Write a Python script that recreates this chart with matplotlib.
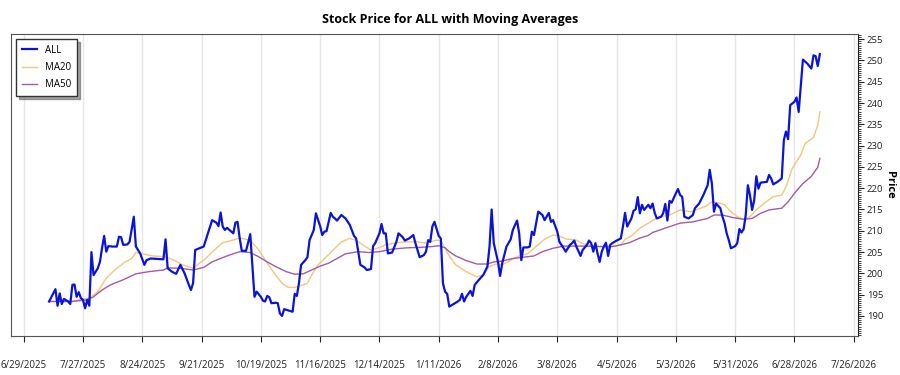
import matplotlib
matplotlib.use("Agg")
import matplotlib.pyplot as plt
import matplotlib.ticker as ticker
import pandas as pd

plt.rcParams['font.family'] = ['Open Sans', 'DejaVu Sans']

# day offsets from 2025-06-29 and values
base_date = pd.Timestamp("2025-06-29")

price_day = [12, 15, 16, 17, 18, 19, 21, 22, 23, 24, 25, 26, 27, 28, 29, 30, 31, 32, 33, 35,
             36, 37, 38, 39, 40, 42, 44, 45, 46, 47, 49, 50, 52, 53, 55, 57, 58, 60, 63, 66,
             67, 68, 70, 72, 74, 76, 78, 79, 80, 81, 83, 85, 86, 87, 89, 91, 92, 93, 94, 95,
             96, 99, 100, 101, 102, 103, 105, 107, 109, 110, 112, 113, 114, 115, 116, 117, 119, 120, 121, 122,
             123, 125, 127, 128, 129, 130, 131, 133, 134, 135, 137, 138, 140, 141, 142, 143, 145, 146, 147, 148,
             150, 152, 154, 156, 157, 159, 161, 162, 164, 165, 166, 168, 169, 170, 171, 172, 174, 176, 177, 179,
             180, 182, 184, 185, 187, 189, 190, 191, 192, 193, 194, 196, 197, 198, 199, 200, 201, 203, 205, 206,
             207, 208, 209, 211, 212, 213, 215, 217, 219, 220, 221, 222, 224, 225, 226, 228, 230, 231, 233, 234,
             235, 236, 238, 239, 240, 241, 243, 245, 246, 248, 249, 250, 252, 253, 255, 256, 258, 259, 260, 261,
             263, 264, 266, 267, 268, 269, 270, 271, 272, 273, 274, 275, 276, 277, 278, 280, 282, 283, 284, 285,
             287, 288, 289, 290, 291, 292, 293, 295, 296, 297, 298, 299, 301, 302, 303, 304, 305, 306, 308, 309,
             310, 311, 312, 314, 316, 317, 319, 321, 323, 324, 325, 326, 327, 329, 330, 331, 332, 333, 334, 336,
             337, 338, 339, 340, 341, 342, 343, 344, 345, 346, 347, 348, 351, 352, 353, 354, 356, 358, 359, 360,
             361, 362, 364, 365, 366, 368, 370, 372, 373, 374, 375, 376]
price = [193.4, 196.3, 192.4, 195.3, 192.8, 194.0, 193.4, 192.8, 197.3, 197.4, 194.5, 195.6, 194.2, 193.8, 191.8, 193.8, 192.4, 205.0, 199.6, 201.2,
         202.7, 205.9, 208.8, 205.1, 206.4, 206.3, 206.3, 208.6, 208.5, 206.7, 206.8, 207.4, 213.3, 206.3, 204.7, 202.0, 203.1, 203.5, 203.4, 203.3,
         208.0, 201.2, 200.4, 199.9, 202.0, 200.0, 197.3, 196.1, 197.7, 205.5, 205.9, 206.3, 207.8, 209.4, 212.5, 211.9, 211.1, 214.3, 211.0, 210.2,
         210.7, 209.4, 211.9, 212.1, 208.3, 205.3, 205.3, 209.2, 194.5, 195.7, 194.5, 193.6, 193.4, 194.7, 194.4, 193.0, 193.1, 193.0, 190.6, 190.0,
         191.6, 191.3, 191.0, 195.2, 194.7, 197.7, 202.0, 203.1, 203.8, 207.8, 210.2, 214.1, 211.1, 209.0, 209.8, 209.9, 214.2, 213.3, 212.9, 212.4,
         213.7, 212.9, 211.4, 208.8, 208.2, 202.0, 201.4, 200.8, 201.0, 206.4, 207.1, 209.4, 211.6, 209.4, 209.4, 204.7, 204.9, 207.4, 209.4, 208.5,
         207.7, 208.2, 209.0, 207.1, 203.8, 204.3, 205.1, 207.8, 207.4, 211.0, 212.1, 208.8, 208.2, 197.7, 195.7, 195.2, 192.2, 192.8, 193.4, 193.8,
         195.2, 193.4, 194.5, 195.9, 194.7, 197.3, 198.5, 199.6, 201.6, 206.3, 215.0, 207.1, 202.7, 199.4, 202.4, 206.3, 208.0, 210.2, 212.4, 209.4,
         203.1, 206.1, 206.1, 206.3, 209.8, 209.0, 214.5, 213.7, 212.5, 214.2, 212.1, 212.5, 209.8, 207.4, 205.9, 205.1, 206.7, 207.1, 207.7, 206.3,
         204.1, 205.5, 206.7, 207.7, 207.1, 205.1, 207.1, 204.7, 202.7, 205.1, 206.3, 207.2, 204.1, 206.7, 207.1, 207.7, 208.2, 211.0, 214.2, 211.0,
         212.9, 214.7, 215.0, 217.9, 214.1, 216.1, 214.9, 216.1, 215.3, 216.4, 214.2, 212.9, 213.3, 214.1, 216.3, 212.4, 217.0, 216.6, 218.8, 219.8,
         218.4, 218.0, 213.3, 212.9, 213.7, 215.3, 216.4, 218.4, 220.7, 224.3, 221.1, 214.5, 216.4, 215.3, 213.3, 211.8, 209.4, 207.8, 205.9, 206.4,
         207.1, 210.4, 209.6, 210.4, 213.7, 220.7, 218.4, 214.9, 217.2, 222.8, 219.9, 221.3, 221.5, 223.1, 222.3, 220.9, 221.5, 222.3, 231.3, 233.3,
         231.5, 239.5, 240.3, 241.3, 237.9, 250.2, 249.3, 248.1, 251.2, 251.0, 248.7, 251.5]

ma20_day = [12, 23, 31, 35, 39, 43, 48, 51, 53, 56, 61, 67, 71, 75, 80, 82, 86, 90, 94, 98,
            102, 107, 111, 115, 119, 122, 125, 128, 130, 134, 136, 139, 143, 147, 150, 154, 157, 160, 164, 167,
            171, 176, 181, 186, 190, 195, 197, 199, 201, 204, 209, 214, 217, 220, 223, 226, 230, 234, 238, 242,
            246, 250, 253, 256, 261, 264, 269, 274, 278, 282, 284, 287, 291, 296, 300, 305, 310, 315, 318, 322,
            325, 328, 331, 334, 337, 340, 343, 346, 350, 354, 358, 360, 363, 367, 369, 373, 375, 376]
ma20 = [193.4, 193.5, 194.2, 195.7, 198.9, 200.8, 202.7, 203.5, 204.9, 204.6, 204.1, 203.9, 203.1, 202.0, 201.2, 202.0, 203.5, 205.5, 207.2, 207.7,
        208.3, 207.8, 205.5, 202.4, 199.6, 197.7, 196.7, 196.7, 197.0, 197.7, 199.6, 202.0, 203.9, 205.9, 207.4, 208.2, 207.8, 206.7, 205.5, 205.9,
        206.7, 207.2, 207.4, 207.4, 207.1, 207.8, 207.7, 205.9, 204.1, 202.0, 200.4, 199.2, 199.6, 201.6, 202.2, 202.0, 203.1, 204.1, 204.6, 206.3,
        208.0, 209.0, 208.8, 208.1, 207.8, 207.0, 206.4, 206.3, 206.3, 206.7, 208.0, 208.8, 210.6, 212.1, 213.2, 213.7, 214.9, 214.5, 215.0, 215.7,
        216.8, 216.6, 216.1, 214.5, 213.3, 212.7, 213.3, 214.9, 216.6, 218.0, 218.4, 220.3, 224.7, 227.8, 230.5, 231.9, 234.8, 237.9]

ma50_day = [12, 23, 30, 33, 37, 41, 47, 53, 59, 66, 68, 74, 80, 85, 89, 96, 102, 107, 111, 115,
            119, 124, 128, 132, 136, 140, 144, 148, 152, 158, 163, 168, 174, 181, 187, 193, 196, 199, 201, 204,
            209, 214, 219, 222, 226, 231, 236, 241, 245, 250, 255, 260, 266, 272, 278, 282, 286, 291, 295, 297,
            304, 310, 316, 323, 326, 330, 335, 340, 344, 348, 352, 358, 361, 364, 368, 372, 375, 376]
ma50 = [193.4, 193.4, 193.8, 194.5, 196.1, 197.3, 198.5, 199.9, 200.4, 200.8, 201.3, 201.2, 200.8, 201.4, 202.7, 204.1, 205.1, 204.9, 203.9, 202.7,
        201.6, 200.4, 199.8, 199.9, 200.8, 201.7, 202.4, 203.5, 204.6, 205.1, 204.9, 205.1, 205.7, 206.0, 206.1, 206.3, 206.5, 206.0, 205.1, 204.1,
        203.0, 202.2, 202.2, 202.7, 202.9, 203.5, 203.8, 204.1, 205.1, 205.9, 206.4, 206.4, 206.4, 206.3, 206.3, 206.7, 207.2, 208.3, 208.9, 209.6,
        210.8, 211.8, 212.1, 212.9, 213.7, 213.7, 213.1, 212.7, 212.9, 214.1, 214.9, 215.3, 216.8, 218.8, 221.1, 222.8, 224.9, 227.0]

price_dates = base_date + pd.to_timedelta(price_day, unit="D")
ma20_dates = base_date + pd.to_timedelta(ma20_day, unit="D")
ma50_dates = base_date + pd.to_timedelta(ma50_day, unit="D")

fig = plt.figure(figsize=(9, 3.75), dpi=100)
ax = fig.add_axes([0.0122, 0.104, 0.9411, 0.8053])

ax.plot(price_dates, price, color='#0a14d6', lw=1.6, label='ALL', zorder=3)
ax.plot(ma20_dates, ma20, color='#f5c57a', lw=1.0, label='MA20', zorder=2)
ax.plot(ma50_dates, ma50, color='#a45aa8', lw=1.0, label='MA50', zorder=2)

ax.set_xlim(pd.Timestamp("2025-06-23"), pd.Timestamp("2026-07-28"))
ax.set_ylim(185.3, 256.2)

# x axis: every 4 weeks from 6/29/2025
tick_dates = pd.date_range("2025-06-29", "2026-07-26", freq="28D")
ax.set_xticks(tick_dates)
ax.set_xticklabels([f"{d.month}/{d.day}/{d.year}" for d in tick_dates])
ax.tick_params(axis='x', length=4, pad=13, labelsize=7, colors='#222222')
ax.grid(axis='x', color='#e6e6e6', lw=1)
ax.set_axisbelow(True)

# y axis on the right
ax.yaxis.tick_right()
ax.yaxis.set_label_position('right')
ax.yaxis.set_minor_locator(ticker.MultipleLocator(0.5))
ax.set_yticks(range(190, 256, 5))
ax.tick_params(axis='y', which='major', length=4, labelsize=6.8, colors='#222222', pad=2.5)
ax.tick_params(axis='y', which='minor', length=2, color='#222222')
ax.set_ylabel('Price', fontsize=8, fontweight='bold', rotation=270, labelpad=8)

for side in ['top', 'left', 'bottom']:
    ax.spines[side].set_color('#555555')
ax.spines['right'].set_color('#222222')

fig.suptitle('Stock Price for ALL with Moving Averages', x=0.5, y=0.965,
             fontsize=9, fontweight='bold')

leg = ax.legend(loc='upper left', fontsize=7, fancybox=False, shadow=True,
                edgecolor='#333333', framealpha=1, borderaxespad=0.5,
                handlelength=1.6, labelspacing=0.65, borderpad=0.6)
leg.get_frame().set_linewidth(1.0)

fig.savefig('out.png', dpi=100)
